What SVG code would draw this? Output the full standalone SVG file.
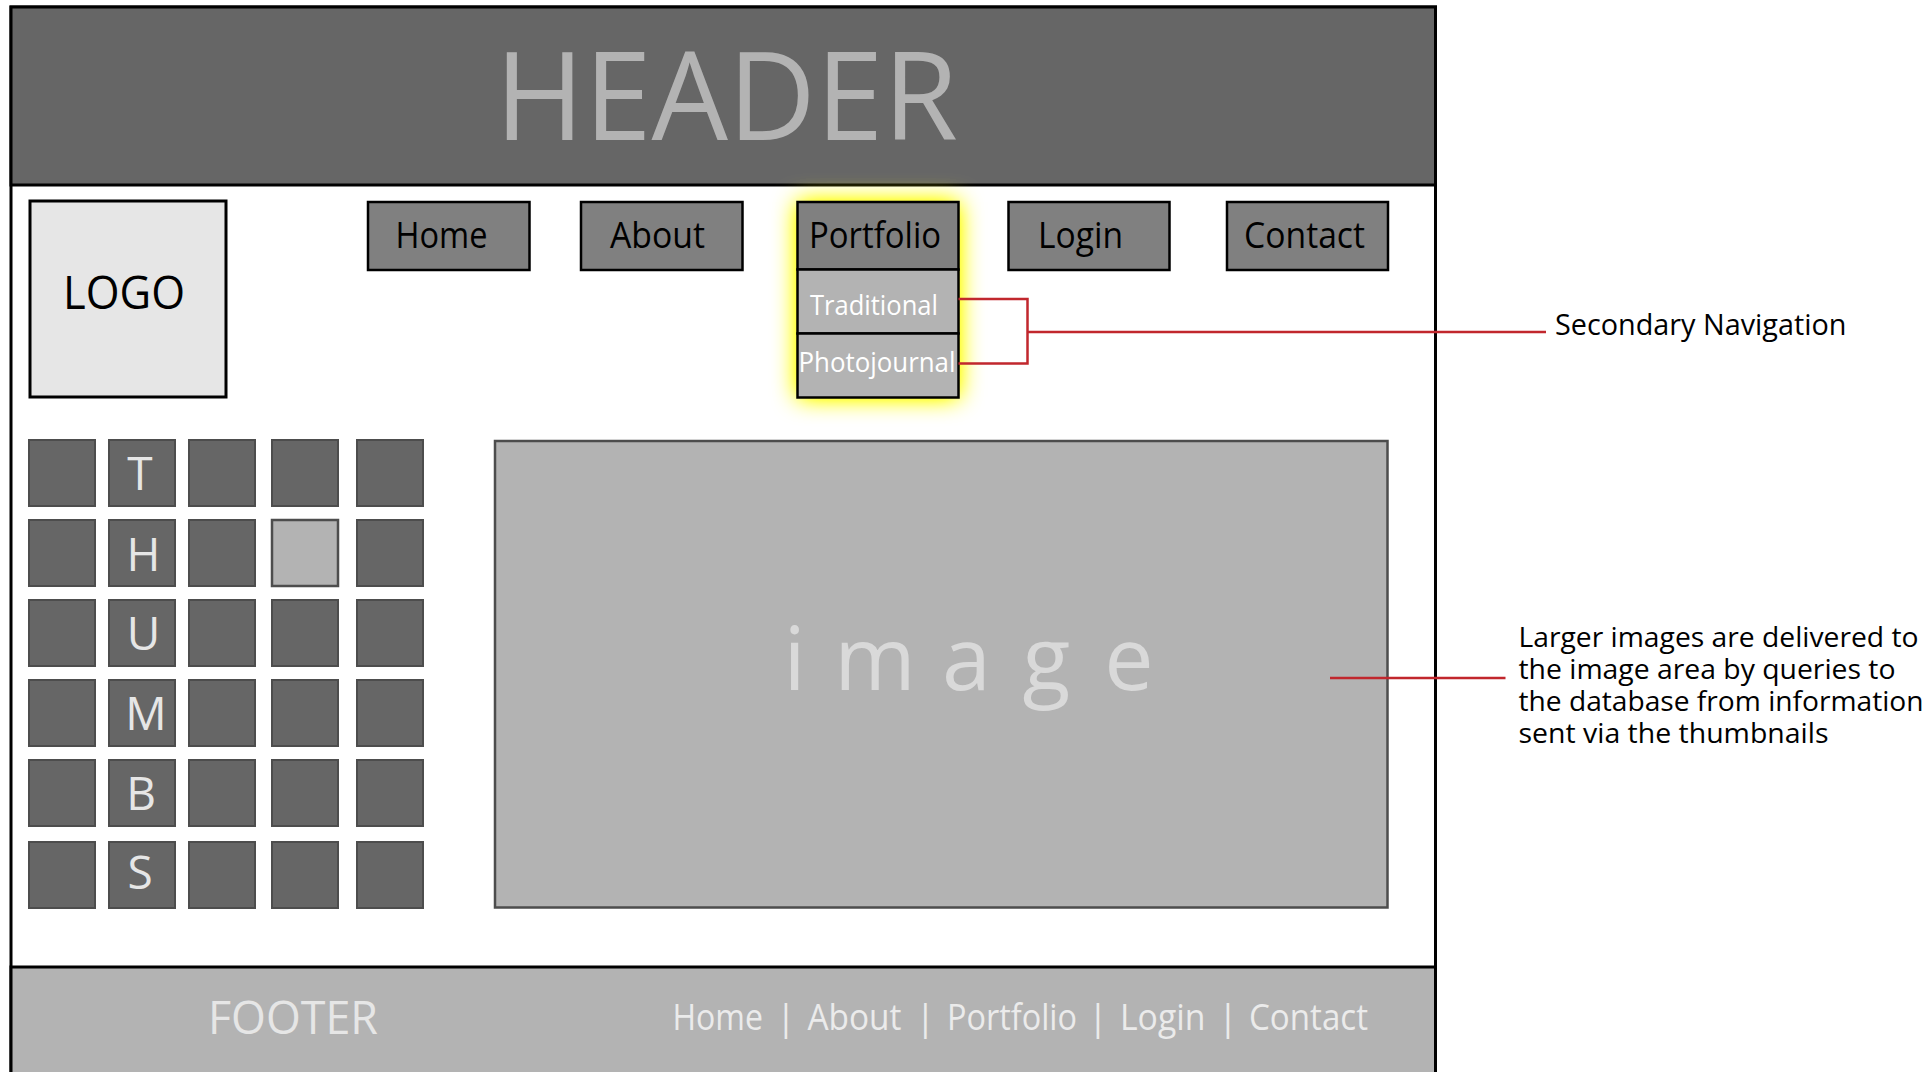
<svg xmlns="http://www.w3.org/2000/svg" width="1932" height="1072" viewBox="0 0 1932 1072">
<defs>
<filter id="glow" x="-50%" y="-50%" width="200%" height="200%">
<feGaussianBlur stdDeviation="12"/>
<feComponentTransfer><feFuncA type="linear" slope="1.6"/></feComponentTransfer>
</filter>
<style>
text{font-family:"Open Sans","Liberation Sans",sans-serif;}
.btn{fill:#808080;stroke:#000;stroke-width:2.5;}
.sub{fill:#b3b3b3;stroke:#000;stroke-width:2.5;}
.btxt{font-size:36px;fill:#000;}
.stxt{font-size:28px;fill:#fff;}
.th{fill:#666;stroke:#4d4d4d;stroke-width:2;}
.thl{font-size:46px;fill:#e6e6e6;text-anchor:middle;}
.ftxt{font-size:36px;fill:#ebebeb;}
.pipe{font-size:36px;fill:#ebebeb;text-anchor:middle;}
.note{font-size:28px;fill:#000;}
.red{fill:none;stroke:#c1272d;stroke-width:2.5;}
</style>
</defs>
<rect width="1932" height="1072" fill="#fff"/>

<g id="frame">
<rect x="11" y="7" width="1424.5" height="1090" fill="#fff" stroke="#000" stroke-width="3"/>
</g>

<g id="header">
<rect x="11" y="7" width="1424.5" height="178" fill="#666" stroke="#000" stroke-width="3"/>
<text x="495" y="139.5" font-size="123" fill="#b3b3b3" textLength="463" lengthAdjust="spacingAndGlyphs">HEADER</text>
</g>

<g id="portfolio-glow">
<rect x="797.5" y="202" width="161" height="195.5" fill="#ffff00" filter="url(#glow)"/>
</g>

<g id="logo">
<rect x="30" y="201" width="196" height="196" fill="#e6e6e6" stroke="#000" stroke-width="3"/>
<text x="63" y="309" font-size="46" fill="#000" textLength="122" lengthAdjust="spacingAndGlyphs">LOGO</text>
</g>

<g id="nav-home">
<rect class="btn" x="368" y="202" width="161.5" height="68"/>
<text class="btxt" x="395.5" y="248" textLength="92" lengthAdjust="spacingAndGlyphs">Home</text>
</g>
<g id="nav-about">
<rect class="btn" x="581" y="202" width="161.5" height="68"/>
<text class="btxt" x="610" y="248" textLength="95" lengthAdjust="spacingAndGlyphs">About</text>
</g>
<g id="nav-portfolio">
<rect class="btn" x="797.5" y="202" width="161" height="67.5"/>
<text class="btxt" x="809" y="247.5" textLength="132" lengthAdjust="spacingAndGlyphs">Portfolio</text>
</g>
<g id="sub-traditional">
<rect class="sub" x="797.5" y="269.5" width="161" height="64"/>
<text class="stxt" x="810" y="315" textLength="128" lengthAdjust="spacingAndGlyphs">Traditional</text>
</g>
<g id="sub-photojournal">
<rect class="sub" x="797.5" y="333.5" width="161" height="64"/>
<text class="stxt" x="798.5" y="371.5" textLength="157" lengthAdjust="spacingAndGlyphs">Photojournal</text>
</g>
<g id="nav-login">
<rect class="btn" x="1008.5" y="202" width="161" height="68"/>
<text class="btxt" x="1038" y="248" textLength="85" lengthAdjust="spacingAndGlyphs">Login</text>
</g>
<g id="nav-contact">
<rect class="btn" x="1227" y="202" width="161" height="68"/>
<text class="btxt" x="1244" y="248" textLength="121" lengthAdjust="spacingAndGlyphs">Contact</text>
</g>

<g id="thumbnails">
<rect class="th" x="29" y="440" width="66" height="66"/>
<rect class="th" x="109" y="440" width="66" height="66"/>
<rect class="th" x="189" y="440" width="66" height="66"/>
<rect class="th" x="272" y="440" width="66" height="66"/>
<rect class="th" x="357" y="440" width="66" height="66"/>
<rect class="th" x="29" y="520" width="66" height="66"/>
<rect class="th" x="109" y="520" width="66" height="66"/>
<rect class="th" x="189" y="520" width="66" height="66"/>
<rect x="272" y="520" width="66" height="66" fill="#b3b3b3" stroke="#4d4d4d" stroke-width="2.5"/>
<rect class="th" x="357" y="520" width="66" height="66"/>
<rect class="th" x="29" y="600" width="66" height="66"/>
<rect class="th" x="109" y="600" width="66" height="66"/>
<rect class="th" x="189" y="600" width="66" height="66"/>
<rect class="th" x="272" y="600" width="66" height="66"/>
<rect class="th" x="357" y="600" width="66" height="66"/>
<rect class="th" x="29" y="680" width="66" height="66"/>
<rect class="th" x="109" y="680" width="66" height="66"/>
<rect class="th" x="189" y="680" width="66" height="66"/>
<rect class="th" x="272" y="680" width="66" height="66"/>
<rect class="th" x="357" y="680" width="66" height="66"/>
<rect class="th" x="29" y="760" width="66" height="66"/>
<rect class="th" x="109" y="760" width="66" height="66"/>
<rect class="th" x="189" y="760" width="66" height="66"/>
<rect class="th" x="272" y="760" width="66" height="66"/>
<rect class="th" x="357" y="760" width="66" height="66"/>
<rect class="th" x="29" y="842" width="66" height="66"/>
<rect class="th" x="109" y="842" width="66" height="66"/>
<rect class="th" x="189" y="842" width="66" height="66"/>
<rect class="th" x="272" y="842" width="66" height="66"/>
<rect class="th" x="357" y="842" width="66" height="66"/>
<text class="thl" x="140" y="490">T</text>
<text class="thl" x="143.5" y="570.5">H</text>
<text class="thl" x="143.5" y="650">U</text>
<text class="thl" x="146" y="730">M</text>
<text class="thl" x="141" y="810">B</text>
<text class="thl" x="140" y="889">S</text>
</g>

<g id="image-area">
<rect x="495" y="441" width="892.5" height="466.5" fill="#b3b3b3" stroke="#4d4d4d" stroke-width="2.5"/>
<text y="690" font-size="88" fill="#d9d9d9" text-anchor="middle"><tspan x="794.5">i</tspan><tspan x="875">m</tspan><tspan x="966.5">a</tspan><tspan x="1046.5">g</tspan><tspan x="1129">e</tspan></text>
</g>

<g id="footer">
<rect x="11" y="967" width="1424.5" height="130" fill="#b3b3b3" stroke="#000" stroke-width="3"/>
<text x="208" y="1034" font-size="46" fill="#e6e6e6" textLength="170" lengthAdjust="spacingAndGlyphs">FOOTER</text>
<text class="ftxt" x="672.5" y="1030" textLength="90.5" lengthAdjust="spacingAndGlyphs">Home</text>
<text class="pipe" x="786" y="1030">|</text>
<text class="ftxt" x="807.5" y="1030" textLength="94" lengthAdjust="spacingAndGlyphs">About</text>
<text class="pipe" x="925.5" y="1030">|</text>
<text class="ftxt" x="947" y="1030" textLength="130" lengthAdjust="spacingAndGlyphs">Portfolio</text>
<text class="pipe" x="1098" y="1030">|</text>
<text class="ftxt" x="1120" y="1030" textLength="85.5" lengthAdjust="spacingAndGlyphs">Login</text>
<text class="pipe" x="1228" y="1030">|</text>
<text class="ftxt" x="1249" y="1030" textLength="119" lengthAdjust="spacingAndGlyphs">Contact</text>
</g>

<g id="connectors">
<polyline class="red" points="958.5,299 1027.5,299 1027.5,363.5 958.5,363.5"/>
<line class="red" x1="1027.5" y1="332" x2="1546" y2="332"/>
<line class="red" x1="1330" y1="678" x2="1505.5" y2="678"/>
</g>

<g id="note-secondary">
<text x="1555" y="334.5" font-size="30" fill="#000" textLength="291.5" lengthAdjust="spacingAndGlyphs">Secondary Navigation</text>
</g>

<g id="note-images">
<text class="note" x="1518.5" y="646.5" textLength="400" lengthAdjust="spacingAndGlyphs">Larger images are delivered to</text>
<text class="note" x="1518.5" y="678.5" textLength="377" lengthAdjust="spacingAndGlyphs">the image area by queries to</text>
<text class="note" x="1518.5" y="710.5" textLength="405" lengthAdjust="spacingAndGlyphs">the database from information</text>
<text class="note" x="1518.5" y="742.5" textLength="310" lengthAdjust="spacingAndGlyphs">sent via the thumbnails</text>
</g>
</svg>
